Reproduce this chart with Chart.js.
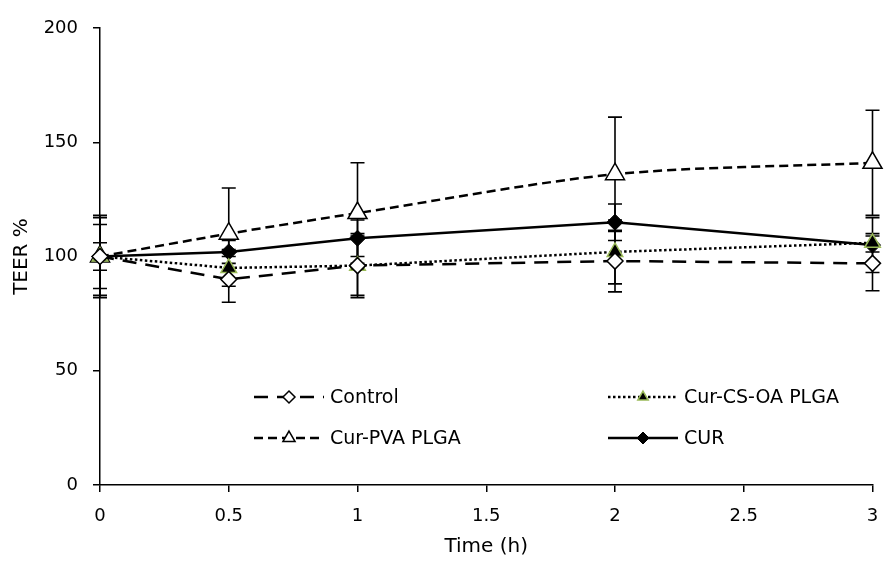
<!DOCTYPE html>
<html>
<head>
<meta charset="utf-8">
<script src="https://cdn.jsdelivr.net/npm/chart.js@4"></script>
<style>
  html, body { margin: 0; padding: 0; background: #fff; }
</style>
</head>
<body>
<canvas id="teer-chart" width="885" height="563"></canvas>
<script>
// data
let times = [0, 0.5, 1, 2, 3];
let xTicks = [0, 0.5, 1, 1.5, 2, 2.5, 3];

let control    = [100, 90, 96, 98, 97];
let controlErr = [18, 10, 14, 13.5, 12];

let curCsOa    = [100, 95, 96, 102, 106];
let curCsOaErr = [14, 8, 13, 14, 4];

let curPva     = [100, 110, 119, 136, 141];
let curPvaErr  = [17, 20, 22, 25, 23];

let cur        = [100, 102, 108, 115, 105];
let curErr     = [6, 5, 8, 8, 12];

let legendNames = ['Control', 'Cur-CS-OA PLGA', 'Cur-PVA PLGA', 'CUR'];

function pts(vals) {
    return times.map((t, i) => ({ x: t, y: vals[i] }));
}

const FONT = '"DejaVu Sans", sans-serif';

// error bars (drawn with the chart scales)
const errorBars = {
    id: 'errorBars',
    beforeDatasetsDraw(chart) {
        const ctx = chart.ctx;
        const xs = chart.scales.x, ys = chart.scales.y;
        ctx.save();
        ctx.strokeStyle = '#000';
        ctx.lineWidth = 1.6;
        chart.data.datasets.forEach(ds => {
            ds.errors.forEach((e, i) => {
                const px = xs.getPixelForValue(ds.data[i].x);
                const top = ys.getPixelForValue(ds.data[i].y + e);
                const bot = ys.getPixelForValue(ds.data[i].y - e);
                ctx.beginPath();
                ctx.moveTo(px, top); ctx.lineTo(px, bot);
                ctx.moveTo(px - 7, top); ctx.lineTo(px + 7, top);
                ctx.moveTo(px - 7, bot); ctx.lineTo(px + 7, bot);
                ctx.stroke();
            });
        });
        ctx.restore();
    }
};

// legend inside the plot, two columns
const insideLegend = {
    id: 'insideLegend',
    afterDraw(chart) {
        const ctx = chart.ctx;
        const slots = [
            { x: 254, y: 397 }, { x: 608, y: 397 },
            { x: 254, y: 438 }, { x: 608, y: 438 }
        ];
        ctx.save();
        chart.data.datasets.forEach((ds, k) => {
            const s = slots[k];
            ctx.strokeStyle = '#000';
            ctx.lineWidth = ds.borderWidth;
            ctx.setLineDash(ds.borderDash || []);
            ctx.beginPath();
            ctx.moveTo(s.x, s.y); ctx.lineTo(s.x + 70, s.y);
            ctx.stroke();
            ctx.setLineDash([]);
            ctx.fillStyle = ds.pointBackgroundColor;
            ctx.strokeStyle = ds.pointBorderColor;
            ctx.lineWidth = ds.pointBorderWidth;
            Chart.helpers.drawPoint(ctx, {
                pointStyle: ds.pointStyle,
                radius: ds.legendRadius,
                rotation: 0,
                borderWidth: ds.pointBorderWidth
            }, s.x + 35, s.y);
            ctx.fillStyle = '#000';
            ctx.font = '19px ' + FONT;
            ctx.textBaseline = 'middle';
            ctx.fillText(legendNames[k], s.x + 76, s.y + 1);
        });
        ctx.restore();
    }
};

let teerChart = new Chart(document.getElementById('teer-chart').getContext('2d'), {
    type: 'line',
    data: {
        datasets: [{
            label: legendNames[0],
            data: pts(control),
            errors: controlErr,
            borderColor: '#000',
            borderWidth: 2.5,
            borderDash: [14, 9],
            pointStyle: 'rectRot',
            pointRadius: 8,
            legendRadius: 6,
            pointBackgroundColor: '#fff',
            pointBorderColor: '#000',
            pointBorderWidth: 1.5,
            tension: 0,
            clip: false
        }, {
            label: legendNames[1],
            data: pts(curCsOa),
            errors: curCsOaErr,
            borderColor: '#000',
            borderWidth: 2.5,
            borderDash: [2.5, 2.5],
            pointStyle: 'triangle',
            pointRadius: 9,
            legendRadius: 6,
            pointBackgroundColor: '#000',
            pointBorderColor: '#9bbb59',
            pointBorderWidth: 1.5,
            tension: 0,
            clip: false
        }, {
            label: legendNames[2],
            data: pts(curPva),
            errors: curPvaErr,
            borderColor: '#000',
            borderWidth: 2.5,
            borderDash: [9, 5],
            pointStyle: 'triangle',
            pointRadius: 11,
            legendRadius: 7,
            pointBackgroundColor: '#fff',
            pointBorderColor: '#000',
            pointBorderWidth: 1.5,
            tension: 0.3,
            clip: false
        }, {
            label: legendNames[3],
            data: pts(cur),
            errors: curErr,
            borderColor: '#000',
            borderWidth: 2.5,
            pointStyle: 'rectRot',
            pointRadius: 8,
            legendRadius: 6,
            pointBackgroundColor: '#000',
            pointBorderColor: '#000',
            pointBorderWidth: 1,
            tension: 0,
            clip: false
        }]
    },
    options: {
        responsive: false,
        animation: false,
        devicePixelRatio: 1,
        layout: { padding: { left: 6, right: 12, top: 28, bottom: 0 } },
        plugins: {
            legend: { display: false },
            tooltip: { enabled: false },
            title: { display: false }
        },
        scales: {
            x: {
                type: 'linear',
                min: 0,
                max: 3,
                afterBuildTicks: s => { s.ticks = xTicks.map(v => ({ value: v })); },
                afterFit: s => { s.height = 78; s.paddingLeft = 0; s.paddingRight = 0; },
                border: { display: true, color: '#000', width: 1.5 },
                grid: { display: true, drawOnChartArea: false, drawTicks: true, tickLength: 7, color: '#000', lineWidth: 1.5 },
                ticks: { color: '#000', font: { family: FONT, size: 18 }, padding: 14, maxRotation: 0, callback: v => String(v) },
                title: { display: true, text: 'Time (h)', color: '#000', font: { family: FONT, size: 20 }, padding: { top: 22 } }
            },
            y: {
                min: 0,
                max: 200,
                afterFit: s => { s.width = 94; },
                border: { display: true, color: '#000', width: 1.5 },
                grid: { display: true, drawOnChartArea: false, drawTicks: true, tickLength: 7, color: '#000', lineWidth: 1.5 },
                ticks: { stepSize: 50, color: '#000', font: { family: FONT, size: 18 }, padding: 15 },
                title: { display: true, text: 'TEER %', color: '#000', font: { family: FONT, size: 20 }, padding: { bottom: 0 } }
            }
        }
    },
    plugins: [errorBars, insideLegend]
});
</script>
</body>
</html>
